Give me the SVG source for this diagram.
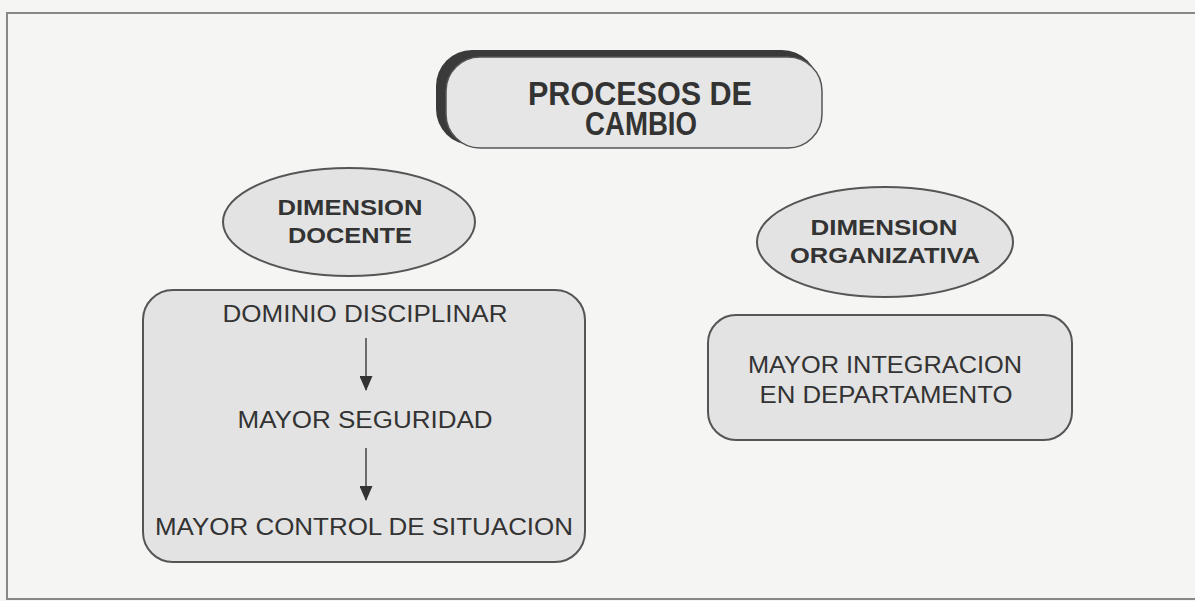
<svg xmlns="http://www.w3.org/2000/svg" width="1195" height="601" viewBox="0 0 1195 601">
<style>
.node{fill:#e3e3e3;stroke:#555;stroke-width:2}
.b{font-family:"Liberation Sans",Arial,sans-serif;font-weight:bold;fill:#333;text-anchor:middle}
.n{font-family:"Liberation Sans",Arial,sans-serif;font-size:23px;fill:#333;text-anchor:middle}
.conn{stroke:#444;stroke-width:1.5;fill:none}
</style>
<defs>
<marker id="ah" markerWidth="15" markerHeight="13" refX="14" refY="6.5" orient="auto" markerUnits="userSpaceOnUse">
<path d="M0,0 L15,6.5 L0,13 Z" fill="#333"/>
</marker>
</defs>
<rect x="0" y="0" width="1195" height="601" fill="#f5f5f3"/>
<rect x="7" y="13" width="1195" height="586" fill="none" stroke="#888" stroke-width="2"/>
<g id="title">
<rect x="436" y="50" width="382" height="95" rx="36" fill="#3a3a3a"/>
<rect x="446" y="57" width="376" height="91" rx="34" fill="#e6e6e6" stroke="#555" stroke-width="1.5"/>
<text class="b" x="640" y="105" font-size="33" textLength="224" lengthAdjust="spacingAndGlyphs">PROCESOS DE</text>
<text class="b" x="641" y="135" font-size="33" textLength="112" lengthAdjust="spacingAndGlyphs">CAMBIO</text>
</g>
<g id="dim-docente">
<ellipse class="node" cx="349" cy="222" rx="126" ry="54"/>
<text class="b" x="350" y="215" font-size="22" textLength="145" lengthAdjust="spacingAndGlyphs">DIMENSION</text>
<text class="b" x="350" y="243" font-size="22" textLength="124" lengthAdjust="spacingAndGlyphs">DOCENTE</text>
</g>
<g id="dim-organizativa">
<ellipse class="node" cx="885" cy="242" rx="128" ry="55"/>
<text class="b" x="884" y="235" font-size="22" textLength="147" lengthAdjust="spacingAndGlyphs">DIMENSION</text>
<text class="b" x="885" y="263" font-size="22" textLength="190" lengthAdjust="spacingAndGlyphs">ORGANIZATIVA</text>
</g>
<g id="docente-box">
<rect class="node" x="143" y="290" width="442" height="272" rx="30"/>
<text class="n" x="365" y="322" textLength="285" lengthAdjust="spacingAndGlyphs">DOMINIO DISCIPLINAR</text>
<text class="n" x="365" y="428" textLength="255" lengthAdjust="spacingAndGlyphs">MAYOR SEGURIDAD</text>
<text class="n" x="364" y="535" textLength="418" lengthAdjust="spacingAndGlyphs">MAYOR CONTROL DE SITUACION</text>
</g>
<g id="organizativa-box">
<rect class="node" x="708" y="315" width="364" height="125" rx="28"/>
<text class="n" x="885" y="373" textLength="274" lengthAdjust="spacingAndGlyphs">MAYOR INTEGRACION</text>
<text class="n" x="886" y="403" textLength="253" lengthAdjust="spacingAndGlyphs">EN DEPARTAMENTO</text>
</g>
<g id="connectors">
<line class="conn" x1="366" y1="338" x2="366" y2="390" marker-end="url(#ah)"/>
<line class="conn" x1="366" y1="448" x2="366" y2="500" marker-end="url(#ah)"/>
</g>
</svg>
